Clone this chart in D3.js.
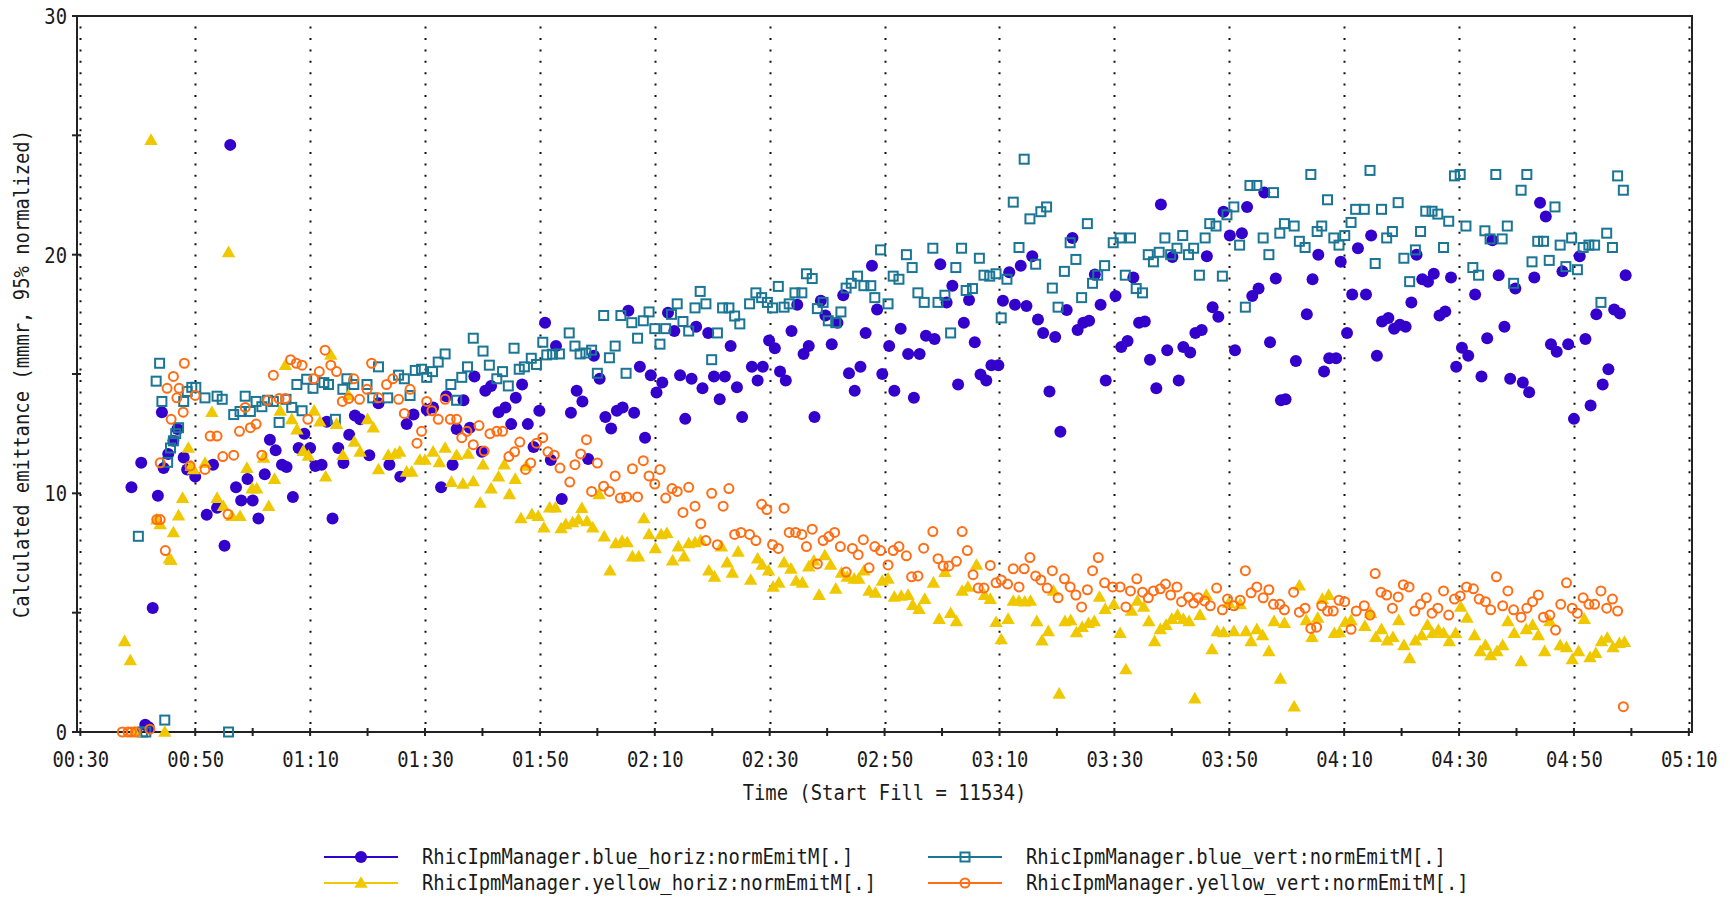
<!DOCTYPE html>
<html><head><meta charset="utf-8">
<script src="https://cdn.jsdelivr.net/npm/d3@7/dist/d3.min.js"></script>
<style>
body{margin:0;background:#fff}
svg{display:block}
text{font-family:"DejaVu Sans Mono","Liberation Mono",monospace;fill:#1a1a1a}
</style>
</head><body>
<svg id="chart" width="1730" height="897"></svg>
<script>
// ---------------- data (time = minutes after 00:00, value = mm mrad) ----------------
const xTickLabels = ["00:30","00:50","01:10","01:30","01:50","02:10","02:30","02:50","03:10","03:30","03:50","04:10","04:30","04:50","05:10"];
const yTickLabels = ["0","10","20","30"];
const xTitle = "Time (Start Fill = 11534)";
const yTitle = "Calculated emittance (mmmr, 95% normalized)";
const seriesNames = [
  "RhicIpmManager.blue_horiz:normEmitM[.]",
  "RhicIpmManager.blue_vert:normEmitM[.]",
  "RhicIpmManager.yellow_horiz:normEmitM[.]",
  "RhicIpmManager.yellow_vert:normEmitM[.]"
];

const blueHoriz = [[41.3,0.3],[41.9,0.2],[42.6,5.2],[38.9,10.25],[40.6,11.28],[43.5,9.9],[44.2,13.4],[44.5,11.06],[45.3,11.65],[46.2,12.2],[46.9,12.7],[48.0,11.5],[48.6,11.0],[50.0,10.7],[52.0,9.1],[53.1,11.2],[53.8,9.4],[55.1,7.8],[56.1,24.6],[57.1,10.25],[58.0,9.7],[59.1,10.6],[60.0,9.7],[61.0,8.95],[62.1,10.8],[63.0,12.25],[64.0,11.8],[65.1,11.2],[65.9,11.1],[67.0,9.85],[68.0,11.9],[69.0,12.5],[70.0,11.9],[70.9,11.15],[72.0,11.2],[72.9,13.0],[73.9,8.95],[74.9,11.9],[75.8,11.27],[76.8,12.45],[77.8,13.26],[78.7,13.1],[80.3,11.6],[81.9,13.77],[83.8,11.2],[85.7,10.7],[86.8,12.9],[88.0,13.3],[90.3,13.5],[91.4,13.6],[92.8,10.25],[93.7,14.07],[94.8,11.2],[95.5,12.7],[96.7,13.9],[97.8,12.75],[98.6,14.9],[99.9,11.74],[100.5,14.3],
[101.5,14.5],[102.8,13.4],[104.0,13.6],[105.0,12.9],[105.8,14.0],[106.9,14.56],[107.9,12.9],[108.9,11.94],[109.9,13.46],[110.9,17.15],[111.9,11.4],[112.8,16.17],[113.8,9.76],[115.4,13.38],[116.4,14.3],[117.4,13.85],[118.4,11.44],[119.4,15.76],[120.4,14.8],[121.4,13.2],[122.4,12.72],[123.4,13.46],[124.4,13.6],[125.4,17.65],[126.4,13.38],[127.4,15.3],[128.3,12.33],[129.3,14.95],[130.3,14.22],[131.3,14.64],[132.3,17.57],[133.4,16.8],[134.4,14.95],[135.3,13.12],[136.4,14.8],[137.2,16.98],[138.3,14.4],[139.3,16.72],[140.3,14.9],[141.3,13.94],[142.2,14.9],[143.2,16.17],[144.3,14.44],[145.2,13.2],[146.9,15.3],[147.9,14.73],[148.8,15.3],[149.9,16.4],[150.9,16.08],[151.8,15.1],[152.8,14.73],[153.8,16.8],[154.8,17.9],[155.9,15.84],[156.8,16.17],[157.8,13.2],[158.9,18.07],[159.7,17.45],[160.8,16.25],[161.8,17.15],[162.8,18.3],[163.8,15.03],[164.8,14.3],[165.8,15.3],[166.7,16.72],[167.8,19.54],[168.7,17.7],[169.6,15.0],
[170.8,16.17],[171.7,14.3],[172.8,16.9],[174.1,15.84],[175.1,14.0],[176.1,15.84],[177.2,16.6],[178.7,16.47],[179.7,19.6],[180.8,18.0],[181.8,18.7],[182.8,14.56],[183.8,17.15],[184.7,18.1],[185.7,16.33],[186.7,14.98],[187.7,14.73],[188.6,15.37],[189.8,15.37],[190.6,18.07],[191.7,19.26],[192.7,17.9],[193.7,19.54],[194.7,17.85],[195.7,19.93],[196.7,17.28],[197.6,16.72],[198.7,14.27],[199.7,16.55],[200.6,12.58],[201.7,17.68],[202.7,20.7],[203.6,16.84],[204.6,17.15],[205.6,17.23],[206.6,19.17],[207.6,17.9],[208.5,14.73],[210.2,18.27],[211.2,16.13],[212.3,16.38],[213.3,19.04],[214.3,17.15],[215.3,17.2],[216.2,15.6],[217.3,14.4],[218.1,22.1],[219.2,16.0],[220.1,19.9],[221.2,14.73],[222.0,16.13],[223.2,15.9],[224.1,16.72],[225.2,16.84],[226.1,19.93],[227.1,17.8],[228.1,17.4],[229.0,21.8],[230.1,20.8],[231.0,16.0],[232.2,20.9],[233.1,22.0],[234.0,18.27],[235.1,18.58],[236.1,22.6],[237.1,16.33],[238.1,19.0],[239.0,13.9],[239.8,13.94],
[241.6,15.54],[243.5,17.5],[244.5,18.97],[245.5,20.0],[246.5,15.1],[247.4,15.66],[248.6,15.66],[249.4,19.7],[250.5,16.72],[251.4,18.33],[252.4,20.27],[253.8,18.33],[254.7,20.8],[255.7,15.76],[256.6,17.2],[257.7,17.35],[258.7,16.9],[259.7,17.06],[260.7,16.98],[261.7,18.0],[262.6,20.0],[263.6,18.97],[264.6,18.87],[265.6,19.2],[266.6,17.45],[267.6,17.62],[268.6,19.04],[269.5,15.3],[270.5,16.1],[271.6,15.76],[272.8,18.33],[273.9,14.9],[274.9,16.5],[275.8,20.6],[276.9,19.14],[277.9,16.98],[278.9,14.8],[279.8,18.58],[281.1,14.64],[282.2,14.24],[283.1,19.04],[284.1,22.18],[285.1,21.6],[286.0,16.25],[287.0,15.93],[288.0,19.3],[289.0,16.25],[290.0,13.12],[291.0,19.93],[292.0,16.47],[292.9,13.68],[293.9,17.5],[295.0,14.56],[296.0,15.2],[297.0,17.7],[298.0,17.53],[299.0,19.14]];

const blueVert = [[40.1,8.2],[40.8,0],[41.4,0],[44.7,0.5],[55.8,0],[43.2,14.7],[43.8,15.45],[44.2,13.85],[45.2,11.3],[45.7,11.9],[46.2,12.2],[46.6,12.5],[47.1,12.75],[48.0,13.85],[48.6,14.27],[49.4,14.44],[50.1,14.44],[51.7,14.0],[53.8,14.07],[54.7,13.94],[56.7,13.3],[57.8,13.43],[58.7,14.07],[59.6,13.43],[60.6,13.85],[61.6,13.63],[62.6,13.9],[63.6,13.85],[64.6,12.97],[65.8,13.94],[66.8,13.6],[67.7,14.56],[68.6,13.46],[69.4,14.78],[70.5,14.4],[72.4,14.64],[73.2,14.56],[74.4,13.1],[75.7,14.36],[76.4,14.8],[77.6,14.56],[79.9,14.56],[80.9,14.0],[81.9,15.3],[83.5,14.0],[85.4,14.95],[86.4,14.8],[87.4,14.1],[88.3,15.15],[89.4,15.2],[90.3,14.86],[91.3,15.1],[92.3,15.5],[93.5,15.84],[94.5,14.56],[95.5,13.9],[96.4,14.86],[97.4,15.3],[98.4,16.5],[100.1,15.96],
[101.2,15.37],[102.5,14.8],[103.5,15.1],[104.5,14.5],[105.5,16.08],[106.4,15.2],[107.3,15.3],[108.5,15.66],[109.4,15.4],[110.5,16.33],[111.2,15.8],[112.2,15.83],[113.4,15.84],[115.1,16.72],[116.1,16.17],[117.0,15.84],[118.0,15.88],[119.0,16.0],[120.0,15.03],[121.1,17.45],[122.1,15.68],[123.1,16.17],[124.1,17.45],[125.0,15.03],[126.0,17.15],[127.0,16.5],[128.0,17.23],[129.0,17.6],[130.0,16.9],[130.9,16.25],[131.9,16.9],[132.9,17.5],[133.9,17.94],[134.9,17.2],[135.9,16.8],[137.0,17.77],[137.9,18.46],[138.9,17.94],[139.9,15.6],[140.9,16.72],[141.8,17.77],[142.9,17.77],[143.9,17.43],[144.8,17.1],[146.5,17.94],[147.6,18.4],[148.6,18.2],[149.6,18.0],[150.5,17.77],[151.5,18.67],[152.5,17.8],[153.4,17.94],[154.4,18.4],[155.6,18.4],[156.4,19.2],[157.4,19.0],[158.3,17.74],[159.3,18.0],[160.2,17.23],[161.5,17.15],[162.4,17.6],[163.3,18.6],[164.2,18.8],[165.3,19.1],[166.4,18.7],[167.6,18.7],[168.3,18.2],[169.3,20.2],
[170.6,17.94],[171.5,19.1],[172.5,18.97],[173.8,20.0],[174.8,19.46],[175.8,18.4],[176.9,18.0],[178.4,20.27],[179.3,18.0],[180.5,18.3],[181.5,16.72],[182.4,19.46],[183.4,20.27],[184.2,18.5],[185.3,18.58],[186.5,19.85],[187.3,19.14],[188.3,19.1],[189.4,19.2],[190.3,17.35],[191.3,18.97],[192.4,22.2],[193.4,20.3],[194.3,24.0],[195.3,21.5],[196.3,19.6],[197.2,21.8],[198.2,22.0],[199.2,18.6],[200.2,17.8],[201.3,19.3],[202.3,20.5],[203.3,19.8],[204.3,18.2],[205.3,21.3],[206.2,18.8],[207.1,19.14],[208.3,19.54],[209.8,20.5],[211.0,20.7],[211.9,19.14],[212.8,20.7],[213.8,18.58],[214.9,18.4],[215.9,20.0],[216.8,19.7],[217.8,20.1],[218.8,20.7],[219.8,20.0],[220.9,20.27],[221.9,20.8],[222.9,20.0],[223.8,20.27],[224.8,19.14],[225.8,20.7],[226.6,21.3],[227.7,21.2],[228.8,19.1],[229.6,21.67],[230.8,22.0],[231.8,20.4],[232.8,17.8],[233.6,22.9],[234.8,22.9],[235.9,20.7],[236.9,20.0],[237.7,22.6],[238.8,20.9],[239.6,21.3],
[241.3,21.2],[242.2,20.56],[243.2,20.3],[244.2,23.36],[245.3,20.97],[246.1,21.2],[247.1,22.3],[248.2,20.7],[249.1,20.4],[250.1,20.8],[251.2,21.35],[252.0,21.9],[253.5,21.9],[254.5,23.53],[255.4,19.63],[256.5,21.9],[257.4,20.7],[258.4,20.97],[259.4,22.18],[260.4,19.85],[261.4,18.87],[262.4,20.2],[263.3,20.97],[264.2,21.82],[265.3,21.82],[266.3,21.7],[267.3,20.3],[268.2,21.4],[269.2,23.3],[270.2,23.36],[271.2,21.2],[272.4,19.46],[273.4,19.14],[274.5,21.0],[275.4,20.66],[276.4,23.36],[277.5,20.66],[278.4,21.2],[279.5,18.8],[280.8,22.7],[281.8,23.36],[282.7,19.7],[283.7,20.56],[284.7,20.56],[285.7,19.76],[286.7,22.0],[287.6,20.4],[288.6,19.5],[289.6,20.7],[290.6,19.37],[291.6,20.3],[292.6,20.4],[293.6,20.4],[294.7,18.0],[295.7,20.9],[296.7,20.3],[297.6,23.3],[298.6,22.7]];

const yellowHoriz = [[37.7,3.8],[38.7,3.0],[39.4,0],[44.7,0],[42.3,24.8],[55.8,20.1],[43.3,8.9],[43.9,8.7],[45.5,7.26],[45.8,7.2],[46.2,8.36],[47.1,9.07],[47.8,9.8],[48.8,11.9],[49.3,11.15],[49.7,11.0],[51.7,11.27],[52.9,13.4],[53.8,9.8],[54.9,9.46],[56.4,9.04],[57.8,9.04],[59.0,11.06],[59.9,10.2],[60.7,10.2],[61.9,11.49],[62.8,9.46],[63.8,10.6],[64.8,13.46],[65.7,15.37],[66.8,13.1],[67.7,12.67],[68.8,11.77],[69.7,11.57],[70.7,13.46],[71.7,13.0],[72.7,10.7],[73.6,15.8],[74.6,12.9],[75.7,11.6],[76.7,14.1],[77.7,12.16],[78.7,11.74],[80.0,13.1],[81.0,12.75],[81.9,11.0],[83.6,11.6],[84.8,11.65],[85.6,11.74],[86.8,10.9],[87.7,10.9],[89.1,11.4],[90.0,11.4],[91.4,11.74],[92.5,11.3],[93.5,11.9],[94.6,10.47],[95.5,11.6],[96.6,10.4],[97.5,11.65],[98.4,10.5],[99.6,9.6],[100.1,11.2],
[101.5,10.2],[102.8,10.7],[103.8,11.2],[104.7,9.96],[105.7,10.6],[106.7,8.95],[107.6,11.15],[108.6,9.12],[109.7,9.04],[110.7,8.56],[111.7,9.4],[112.7,9.4],[113.7,8.53],[114.5,8.7],[115.7,8.78],[116.7,8.9],[117.3,9.38],[118.2,8.83],[119.2,8.56],[120.3,9.96],[121.2,8.19],[122.2,6.76],[123.2,7.9],[124.3,8.0],[125.2,7.94],[126.1,7.35],[127.2,7.35],[128.1,8.95],[129.0,8.28],[130.1,7.69],[131.1,8.28],[132.1,8.33],[133.1,7.18],[134.1,7.77],[135.1,7.35],[135.9,7.9],[137.0,7.94],[138.0,8.02],[139.4,6.76],[140.4,6.5],[141.6,7.77],[142.6,7.1],[143.5,6.67],[144.5,7.55],[146.7,6.37],[147.9,7.26],[148.7,7.0],[149.8,6.76],[150.6,6.08],[151.6,6.25],[152.5,7.1],[153.7,6.84],[154.6,6.33],[155.7,6.25],[156.8,6.93],[157.7,7.18],[158.6,5.74],[159.6,7.4],[160.6,7.0],[161.5,6.0],[162.5,6.67],[163.5,6.5],[164.7,6.42],[165.5,6.42],[166.4,6.76],[167.3,5.91],[168.4,5.83],[169.6,6.33],
[170.6,6.42],[171.7,5.66],[172.9,5.7],[174.1,5.74],[174.9,5.32],[176.0,5.15],[177.0,5.57],[178.5,6.25],[179.5,4.73],[180.5,6.7],[181.5,4.98],[182.5,4.64],[183.5,5.91],[184.5,6.08],[186.0,7.0],[187.4,5.74],[188.4,5.57],[189.4,4.6],[190.3,3.88],[191.5,4.73],[192.4,5.49],[193.4,5.49],[194.4,5.46],[195.4,5.49],[196.5,4.64],[197.4,3.83],[198.5,4.22],[199.4,5.91],[200.4,1.6],[201.4,4.64],[202.4,4.68],[203.4,4.17],[204.4,4.39],[205.5,4.56],[206.5,4.64],[207.4,5.66],[208.4,5.15],[209.9,5.35],[211.0,4.14],[212.0,2.62],[213.0,5.07],[214.0,5.49],[215.1,5.24],[216.0,4.64],[217.0,3.8],[218.0,4.3],[219.0,4.48],[220.0,4.73],[221.0,4.9],[222.0,4.73],[223.0,4.64],[224.0,1.4],[224.9,4.9],[226.0,5.74],[227.0,3.46],[227.9,4.22],[229.0,4.17],[229.9,5.4],[230.8,4.22],[231.9,5.35],[232.9,4.22],[233.8,3.8],[234.8,4.3],[235.8,4.05],[236.9,3.38],[237.8,4.64],[238.9,2.23],[239.6,4.56],
[241.3,1.06],[242.2,6.13],[243.4,4.68],[244.4,3.97],[245.4,4.78],[246.2,5.57],[247.3,5.74],[248.3,4.14],[249.2,4.17],[250.2,4.6],[251.2,4.68],[253.6,4.44],[254.6,4.98],[255.5,3.97],[256.5,4.3],[257.5,3.83],[258.5,3.97],[259.5,4.68],[260.4,3.63],[261.4,3.09],[262.4,3.83],[263.5,4.05],[264.5,4.48],[265.4,4.14],[266.4,4.27],[267.3,4.14],[268.3,3.8],[269.4,4.14],[270.3,5.24],[271.4,4.78],[272.7,4.05],[273.7,3.38],[274.6,3.63],[275.5,3.21],[276.6,3.38],[277.6,3.63],[278.5,4.64],[279.6,4.14],[280.8,2.96],[281.7,4.3],[282.8,4.48],[283.8,4.05],[284.9,3.38],[285.8,4.64],[287.6,3.63],[288.7,3.55],[289.7,3.04],[290.8,3.38],[291.8,4.73],[292.8,3.13],[293.8,3.3],[294.8,3.8],[295.8,3.94],[296.8,3.55],[297.9,3.72],[298.8,3.77]];

const yellowVert = [[37.3,0],[38.3,0],[38.9,0],[39.6,0],[42.1,0.12],[43.3,8.9],[43.9,8.9],[44.8,7.6],[43.9,11.28],[45.8,13.1],[45.1,14.4],[46.2,14.9],[46.8,14.0],[47.2,14.4],[47.9,13.4],[48.1,15.45],[49.1,11.15],[50.0,14.1],[51.7,11.0],[52.6,12.4],[53.8,12.4],[54.8,11.54],[55.7,9.12],[56.7,11.6],[57.7,12.6],[58.7,13.6],[59.6,12.75],[60.6,12.9],[61.6,11.6],[62.6,13.9],[63.6,14.95],[64.6,13.97],[65.7,13.97],[66.6,15.6],[67.6,15.45],[68.6,15.37],[69.6,13.1],[70.6,14.8],[71.6,15.1],[72.6,16.0],[73.6,15.37],[74.6,15.1],[75.6,13.85],[76.7,13.97],[77.6,14.8],[78.6,13.94],[79.9,14.36],[80.7,15.45],[81.9,14.0],[83.3,14.56],[84.4,14.8],[85.4,13.94],[86.4,13.35],[87.4,14.36],[88.6,12.1],[89.4,12.6],[90.3,13.85],[91.2,13.46],[92.3,13.1],[93.5,13.94],[94.4,13.1],[95.5,13.1],[96.4,12.33],[97.3,12.6],[98.4,12.04],[99.4,12.84],[100.3,11.77],
[101.3,12.5],[102.5,12.6],[103.5,12.6],[104.6,11.54],[105.6,11.74],[106.5,12.15],[107.5,11.0],[108.4,11.27],[109.4,12.1],[110.5,12.33],[111.4,11.74],[112.5,11.6],[113.5,11.06],[115.2,10.47],[116.1,11.2],[117.1,11.65],[118.1,12.25],[119.0,10.08],[120.0,11.27],[121.1,10.3],[122.1,10.08],[123.1,10.73],[124.0,9.8],[125.1,9.85],[126.1,11.03],[127.0,9.85],[128.0,11.37],[129.0,10.73],[130.0,10.39],[130.9,11.0],[131.9,9.8],[133.0,10.2],[133.9,10.08],[134.9,9.2],[135.9,10.25],[137.0,9.46],[138.0,8.73],[138.9,8.02],[139.9,10.0],[140.9,7.85],[141.9,9.46],[142.9,10.2],[143.9,8.28],[145.0,8.36],[146.5,8.28],[147.6,8.02],[148.6,9.54],[149.5,9.32],[150.5,7.85],[151.5,7.69],[152.5,9.38],[153.4,8.36],[154.5,8.36],[155.6,8.28],[156.4,7.77],[157.4,8.5],[158.3,7.04],[159.3,8.02],[160.3,8.19],[161.3,8.36],[162.3,7.77],[163.3,6.7],[164.4,7.69],[165.4,7.43],[166.3,8.06],[167.3,6.88],[168.3,7.77],[169.3,7.6],
[170.6,7.0],[171.5,7.6],[172.5,7.77],[173.8,7.38],[174.7,6.5],[175.8,6.54],[176.8,7.7],[178.4,8.4],[179.3,7.26],[180.2,6.96],[181.2,6.96],[182.5,7.15],[183.5,8.4],[184.4,7.6],[185.4,6.59],[186.3,6.03],[187.3,6.03],[188.4,6.98],[189.4,6.25],[190.3,6.37],[191.4,6.2],[192.4,6.84],[193.4,6.08],[194.3,6.84],[195.3,7.31],[196.3,6.54],[197.2,6.37],[198.3,6.03],[199.2,6.76],[200.2,5.62],[201.3,6.42],[202.3,6.08],[203.3,5.74],[204.3,5.24],[205.3,5.96],[206.2,6.76],[207.2,7.31],[208.3,6.25],[209.7,6.08],[211.0,6.08],[212.0,5.24],[212.8,5.91],[213.9,6.42],[214.9,5.86],[215.9,5.62],[216.8,5.91],[218.0,6.0],[218.9,6.2],[219.8,5.74],[220.9,6.08],[221.7,5.46],[222.9,5.66],[223.8,5.4],[224.6,5.62],[225.7,5.49],[226.7,5.29],[227.8,6.03],[228.8,5.12],[229.7,5.57],[230.8,5.29],[231.9,5.52],[232.8,6.76],[233.8,5.83],[234.8,6.08],[235.9,5.62],[236.9,5.96],[237.7,5.35],[238.8,5.35],[239.6,5.12],
[241.2,5.86],[242.2,5.02],[243.2,5.19],[244.2,4.34],[245.2,4.39],[246.1,5.29],[247.1,5.07],[248.1,5.07],[249.1,5.52],[250.1,5.46],[251.2,4.3],[252.1,5.07],[253.5,5.29],[254.5,4.9],[255.4,6.64],[256.4,5.86],[257.4,5.74],[258.4,5.19],[259.4,5.66],[260.3,6.17],[261.3,6.08],[262.3,5.07],[263.3,5.35],[264.3,5.62],[265.3,4.98],[266.3,5.19],[267.3,5.91],[268.2,4.9],[269.2,5.57],[270.2,5.7],[271.3,6.08],[272.5,6.0],[273.5,5.57],[274.6,5.46],[275.5,5.12],[276.5,6.5],[277.6,5.29],[278.5,5.91],[279.5,5.12],[280.8,4.81],[281.8,5.19],[282.8,5.46],[283.8,5.74],[284.7,4.81],[285.8,4.9],[286.8,4.27],[287.7,5.35],[288.7,6.25],[289.7,5.19],[290.6,4.98],[291.6,5.62],[292.6,5.35],[293.6,5.35],[294.7,5.91],[295.7,5.19],[296.7,5.57],[297.6,5.07],[298.6,1.06]];

// ---------------- drawing ----------------
const svg = d3.select("#chart");
const toMin = s => { const [h, m] = s.split(":").map(Number); return h * 60 + m; };
const CHAR_W = 11.35;   // monospace advance used by the reference
const FONT = "21px";

const x = d3.scaleLinear().domain([29.42, 310.55]).range([77, 1692]);
const y = d3.scaleLinear().domain([0, 30]).range([732, 16]);
const [X0, X1] = x.range();
const [Y0, Y1] = y.range();

function fitText(sel) {
  sel.style("font-family", '"DejaVu Sans Mono",monospace').style("font-size", FONT)
    .attr("textLength", function () { return this.textContent.length * CHAR_W; })
    .attr("lengthAdjust", "spacingAndGlyphs");
}

const majorX = xTickLabels.map(toMin);
const minorX = d3.range(toMin(xTickLabels[0]), toMin(xTickLabels[xTickLabels.length - 1]) + 1, 10);
const minorY = d3.range(0, 31, 5);

// dotted vertical grid lines at labelled times
svg.append("g").selectAll("line").data(majorX).join("line")
  .attr("x1", d => Math.round(x(d)) + 0.5).attr("x2", d => Math.round(x(d)) + 0.5)
  .attr("y1", Y0 - 8).attr("y2", Y1 + 6)
  .attr("stroke", "#111").attr("stroke-width", 2).attr("stroke-dasharray", "2,9.4");

// frame
svg.append("rect").attr("x", X0).attr("y", Y1).attr("width", X1 - X0).attr("height", Y0 - Y1)
  .attr("fill", "none").attr("stroke", "#222").attr("stroke-width", 2);

// x axis ticks (crossing) and labels
svg.append("g").selectAll("line").data(minorX).join("line")
  .attr("x1", d => x(d)).attr("x2", d => x(d)).attr("y1", Y0 - 4).attr("y2", Y0 + 4)
  .attr("stroke", "#222").attr("stroke-width", 2);
const xAxis = d3.axisBottom(x).tickValues(majorX).tickSize(0).tickPadding(0)
  .tickFormat((d, i) => xTickLabels[i]);
const gx = svg.append("g").attr("transform", `translate(0,${Y0})`).call(xAxis);
gx.select(".domain").remove();
gx.selectAll("text").attr("y", 28).attr("dy", "0.35em").attr("fill", "#1a1a1a").call(fitText);

// y axis ticks (crossing) and labels
svg.append("g").selectAll("line").data(minorY).join("line")
  .attr("x1", X0 - 5).attr("x2", X0 + 4).attr("y1", d => y(d)).attr("y2", d => y(d))
  .attr("stroke", "#222").attr("stroke-width", 2);
const yAxis = d3.axisLeft(y).tickValues(yTickLabels.map(Number)).tickSize(0).tickPadding(0)
  .tickFormat((d, i) => yTickLabels[i]);
const gy = svg.append("g").attr("transform", `translate(${X0},0)`).call(yAxis);
gy.select(".domain").remove();
gy.selectAll("text").attr("x", -10).attr("dy", "0.35em").attr("fill", "#1a1a1a").call(fitText);

// titles
svg.append("text").attr("x", (X0 + X1) / 2).attr("y", 793).attr("dy", "0.35em")
  .attr("text-anchor", "middle").text(xTitle).call(fitText);
svg.append("text").attr("transform", `translate(22,${(Y0 + Y1) / 2}) rotate(-90)`).attr("dy", "0.35em")
  .attr("text-anchor", "middle").text(yTitle).call(fitText);

// marker styles
const styles = [
  { data: blueHoriz, color: "#3300cc", kind: "dot" },
  { data: blueVert, color: "#1b7595", kind: "square" },
  { data: yellowHoriz, color: "#f0c800", kind: "tri" },
  { data: yellowVert, color: "#ff6e14", kind: "ring" }
];
const triPath = d3.symbol(d3.symbolTriangle, 78)();

function drawMarker(g, kind, color) {
  if (kind === "dot") g.append("circle").attr("r", 6).attr("fill", color);
  else if (kind === "square") g.append("rect").attr("x", -4.5).attr("y", -4.5).attr("width", 9).attr("height", 9)
    .attr("fill", "none").attr("stroke", color).attr("stroke-width", 2);
  else if (kind === "tri") g.append("path").attr("d", triPath).attr("fill", color).attr("transform", "translate(0,1)");
  else g.append("circle").attr("r", 4.5).attr("fill", "none").attr("stroke", color).attr("stroke-width", 2);
}

const plot = svg.append("g");
styles.forEach(s => {
  plot.append("g").selectAll("g").data(s.data).join("g")
    .attr("transform", d => `translate(${x(d[0])},${y(d[1])})`)
    .each(function () { drawMarker(d3.select(this), s.kind, s.color); });
});

// legend
const legendPos = [
  { lx: 324, ty: 857 }, { lx: 928, ty: 857 }, { lx: 324, ty: 883 }, { lx: 928, ty: 883 }
];
styles.forEach((s, i) => {
  const p = legendPos[i];
  const g = svg.append("g");
  g.append("line").attr("x1", p.lx).attr("x2", p.lx + 74).attr("y1", p.ty).attr("y2", p.ty)
    .attr("stroke", s.color).attr("stroke-width", 2);
  const m = g.append("g").attr("transform", `translate(${p.lx + 37},${p.ty})`);
  drawMarker(m, s.kind, s.color);
  g.append("text").attr("x", p.lx + 98).attr("y", p.ty).attr("dy", "0.35em")
    .text(seriesNames[i]).call(fitText);
});
</script>
</body></html>
